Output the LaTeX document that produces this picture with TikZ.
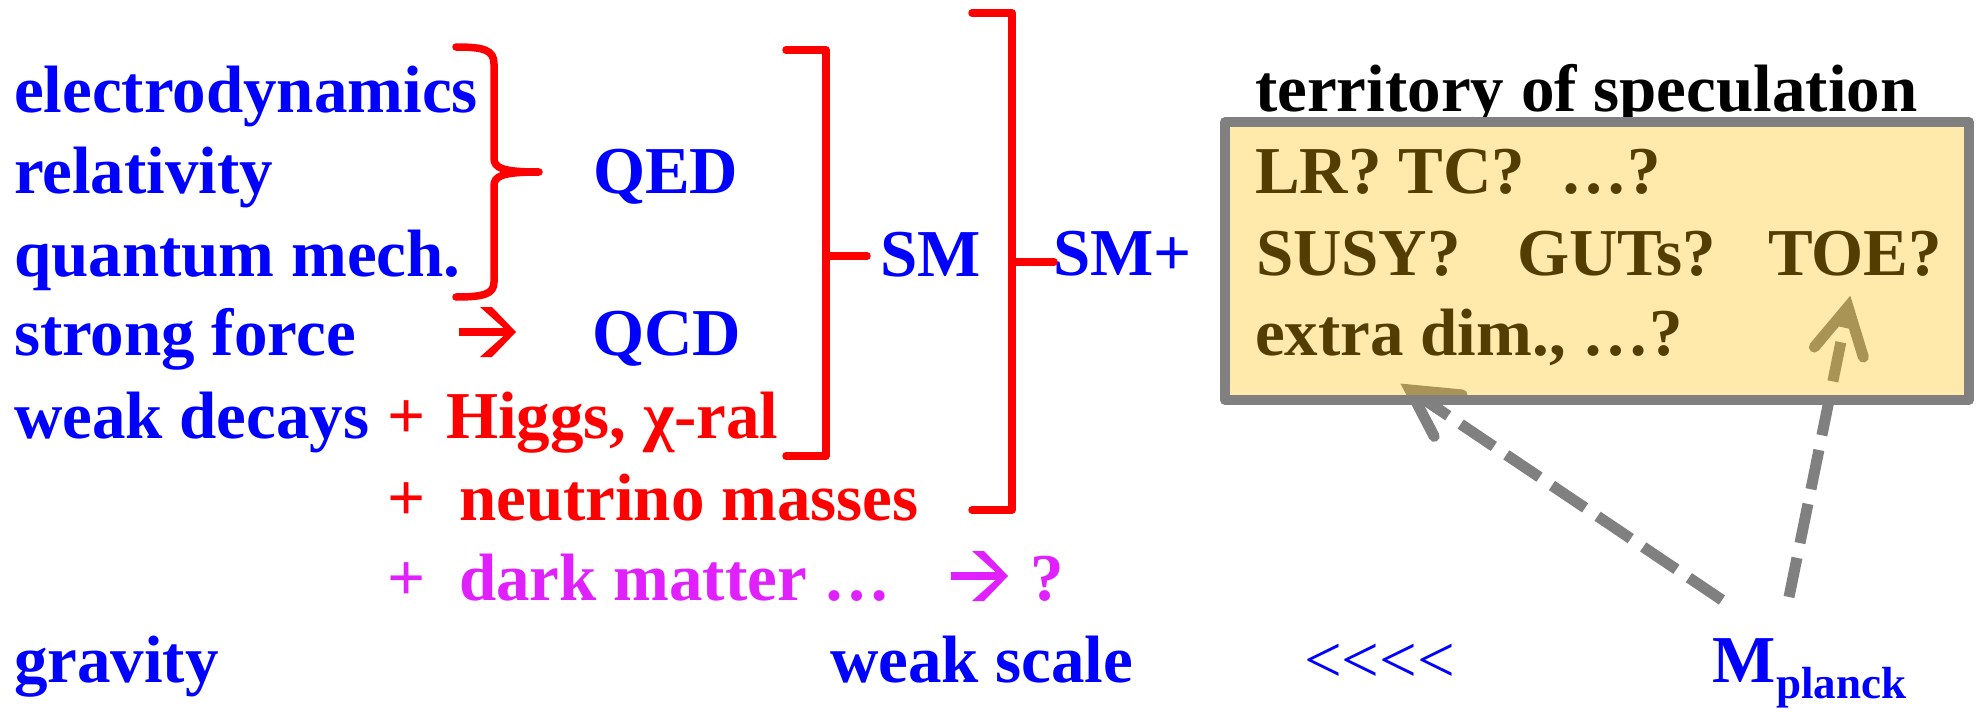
\documentclass[tikz,border=0pt]{standalone}
\usepackage{fontspec}
\setmainfont{Liberation Serif}
\usetikzlibrary{calc}
\definecolor{tblue}{RGB}{0,0,255}
\definecolor{tred}{RGB}{255,0,0}
\definecolor{tmag}{RGB}{224,32,255}
\definecolor{tgray}{RGB}{128,128,128}
\definecolor{tfill}{RGB}{255,188,0}
\tikzset{
  txt/.style={inner sep=0pt, outer sep=0pt, anchor=base west, font=\fontsize{67}{80}\selectfont\bfseries},
  bluetxt/.style={txt, text=tblue},
  redtxt/.style={txt, text=tred},
  magtxt/.style={txt, text=tmag},
  blacktxt/.style={txt, text=black},
  redline/.style={draw=tred, line width=7.5pt, line cap=round, line join=round},
  grayshaft/.style={draw=tgray, line width=11pt, dash pattern=on 40pt off 15pt},
  grayhead/.style={draw=tgray, line width=11pt, solid, line cap=round, line join=miter},
  wdarrow/.pic={
    \fill (0,-4) rectangle (50,4);
    \fill (21,-25) -- (33,-25) -- (57,0) -- (33,25) -- (21,25) -- (49,0) -- cycle;
  }
}
\begin{document}
\begin{tikzpicture}[x=1pt,y=-1pt]
\useasboundingbox (0,0) rectangle (1979,709);

% left column
\node[bluetxt] (ed) at (14,113) {electrodynamics};
\node[bluetxt] (rel) at (14,193) {relativity};
\node[bluetxt] (qm) at (14,276) {quantum mech.};
\node[bluetxt] (sf) at (14,355) {strong force};
\node[bluetxt] (wd) at (14,438) {weak decays};
\node[bluetxt] (grav) at (14,682) {gravity};

\node[bluetxt] (qed) at (593,193) {QED};
\node[bluetxt] (qcd) at (592,355) {QCD};
\node[bluetxt] (sm) at (880,276) {SM};
\node[bluetxt] (smp) at (1053,275) {SM+};

\node[redtxt] (p1) at (387,438) {+};
\node[redtxt] (higgs) at (446,438) {Higgs, χ-ral};
\node[redtxt] (p2) at (387,520) {+};
\node[redtxt] (nu) at (459,520) {neutrino masses};
\node[magtxt] (p3) at (387,600) {+};
\node[magtxt] (dm) at (459,600) {dark matter …};
\node[magtxt] (qm2) at (1030,600) {?};

\node[bluetxt] (ws) at (830,682) {weak scale};
\node[bluetxt, font=\fontsize{67}{80}\selectfont] (ll) at (1304,682) {<\kern0pt<\kern0pt<\kern0pt<};
\node[bluetxt] (mp) at (1712,682) {M};
\node[bluetxt, font=\fontsize{45}{50}\selectfont\bfseries] (mpl) at (1776,698) {planck};

% glyph arrows
\pic[color=tred] at (459,332) {wdarrow};
\pic[color=tmag] at (951,576) {wdarrow};

% brace
\draw[redline] (456,47) .. controls (484,47) and (494,50) .. (494,64) -- (494,158)
  .. controls (494,168) and (502,172) .. (539,172)
  .. controls (502,172) and (494,176) .. (494,186) -- (494,282)
  .. controls (494,294) and (484,297) .. (456,297);

% SM bracket
\draw[redline] (786,50) -- (826,50) -- (826,456) -- (786,456);
\draw[redline] (826,256) -- (867,256);
% SM+ bracket
\draw[redline] (972,13) -- (1012,13) -- (1012,510) -- (972,510);
\draw[redline] (1012,262) -- (1054,262);

% title (under box)
\node[blacktxt] (title) at (1255,111) {territory of speculation};

% dashed arrows (under box fill)
\coordinate (a1s) at (1722,600);
\coordinate (a1t) at (1410,390);
\coordinate (a2s) at (1789,597);
\coordinate (a2t) at (1848,307);
\draw[grayshaft] (a1s) -- (a1t);
\draw[grayshaft] (a2s) -- (a2t);
\coordinate (b1) at ($(a1t)!46pt!(a1s)$);
\coordinate (b2) at ($(a2t)!46pt!(a2s)$);
\draw[grayhead] ($(b1)!25pt!90:(a1t)$) -- (a1t) -- ($(b1)!25pt!-90:(a1t)$);
\draw[grayhead] ($(b2)!25pt!90:(a2t)$) -- (a2t) -- ($(b2)!25pt!-90:(a2t)$);

% box text (black under tinted fill)
\node[blacktxt] (lr) at (1255,193) {LR? TC?};
\node[blacktxt] (el1) at (1560,193) {…?};
\node[blacktxt] (susy) at (1256,275) {SUSY?};
\node[blacktxt] (guts) at (1517,275) {GUTs?};
\node[blacktxt] (toe) at (1768,275) {TOE?};
\node[blacktxt] (xd) at (1255,355) {extra dim., …?};

% box
\node[draw=tgray, line width=10pt, fill=tfill, fill opacity=0.33, line join=round,
      minimum width=744pt, minimum height=278pt, inner sep=0pt] (box) at (1597,261) {};
\end{tikzpicture}
\end{document}
